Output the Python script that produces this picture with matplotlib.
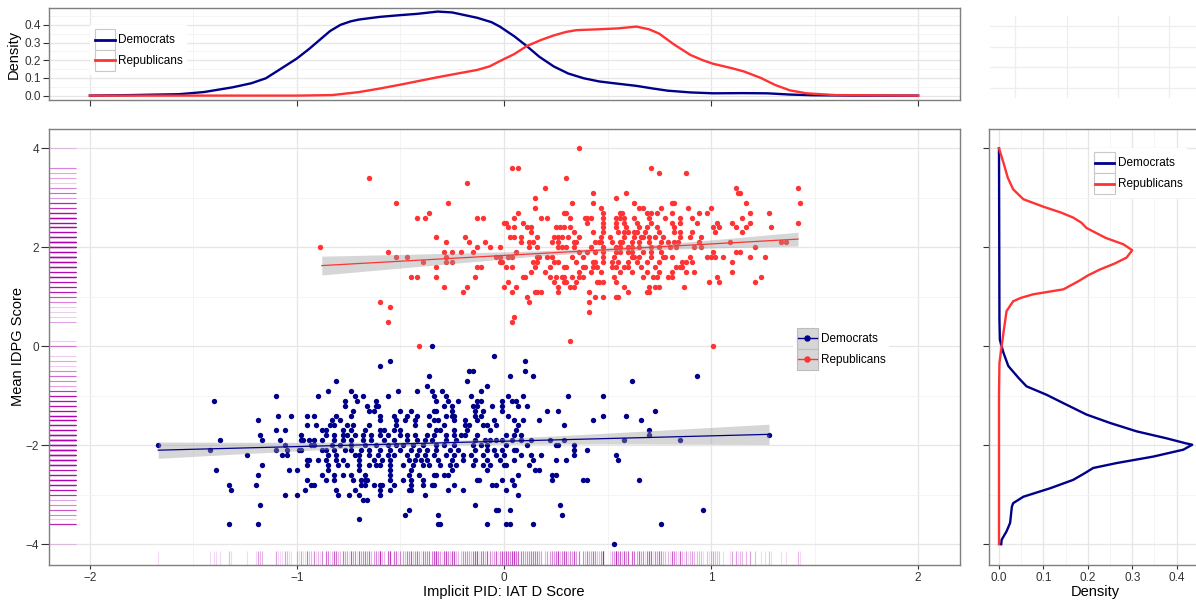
import numpy as np
import matplotlib
matplotlib.use('Agg')
import matplotlib.pyplot as plt
from matplotlib.patches import Rectangle
from matplotlib.lines import Line2D
from matplotlib.legend_handler import HandlerBase

plt.rcParams['font.family'] = ['Liberation Sans', 'DejaVu Sans']

# ── Colours ───────────────────────────────────────────────────────────────────
DEM = '#00008B'
REP = '#FF3333'
RUG = '#B000B0'
BAND = '#999999'
GRID_MAJOR = '#E6E6E6'
GRID_MINOR = '#F4F4F4'
FRAME = '#7F7F7F'
INK = '#333333'

# ── Scatter data: IDPG score rows and the IAT D scores on each row ────────────
rep_idpg = [4.0, 3.6, 3.5, 3.4, 3.3, 3.2, 3.1, 3.0, 2.9, 2.8, 2.7, 2.6, 2.5, 2.4,
            2.3, 2.2, 2.1, 2.0, 1.9, 1.8, 1.7, 1.6, 1.5, 1.4, 1.3, 1.2, 1.1, 1.0,
            0.9, 0.8, 0.7, 0.6, 0.5, 0.1, 0.0]
rep_iat = [
    [0.36],
    [0.04, 0.07, 0.71],
    [0.75, 0.88],
    [-0.65, 0.30],
    [-0.18],
    [0.20, 1.12, 1.42],
    [0.43, 0.59, 1.13, 1.14],
    [0.15, 0.54],
    [-0.52, -0.27, 0.33, 0.43, 0.63, 0.81, 0.82, 1.17, 1.43],
    [0.15, 0.47, 0.65, 0.67, 0.76, 0.89, 1.00],
    [-0.36, 0.07, 0.29, 0.30, 0.48, 0.56, 0.57, 0.69, 0.71, 0.74, 0.81, 0.94,
     0.98, 1.19, 1.28],
    [-0.42, -0.38, -0.13, -0.10, 0.05, 0.18, 0.21, 0.32, 0.39, 0.40, 0.42, 0.48,
     0.54, 0.56, 0.58, 0.63, 0.70, 0.78, 0.85, 0.91, 1.15],
    [0.00, 0.01, 0.09, 0.40, 0.48, 0.54, 0.58, 0.64, 0.71, 0.81, 0.85, 0.93,
     1.03, 1.10, 1.19, 1.42],
    [0.02, 0.05, 0.11, 0.13, 0.25, 0.27, 0.29, 0.32, 0.48, 0.54, 0.59, 0.65,
     0.69, 0.74, 0.82, 1.01, 1.04, 1.12, 1.17, 1.29],
    [0.13, 0.34, 0.43, 0.48, 0.55, 0.58, 0.60, 0.63, 0.64, 0.68, 0.75, 0.82,
     0.85, 0.91, 1.02, 1.15],
    [-0.33, -0.19, 0.03, 0.05, 0.08, 0.16, 0.24, 0.26, 0.28, 0.31, 0.36, 0.47,
     0.51, 0.58, 0.63, 0.66, 0.67, 0.70, 0.73, 0.77, 0.85, 0.90, 0.95],
    [-0.28, -0.17, -0.09, 0.08, 0.12, 0.14, 0.23, 0.26, 0.34, 0.35, 0.44, 0.46,
     0.47, 0.52, 0.56, 0.57, 0.62, 0.65, 0.70, 0.76, 0.79, 0.82, 0.84, 0.94,
     1.09, 1.34, 1.36],
    [-0.89, -0.13, -0.07, -0.02, 0.12, 0.16, 0.26, 0.28, 0.30, 0.34, 0.42, 0.48,
     0.54, 0.56, 0.60, 0.62, 0.65, 0.71, 0.75, 0.80, 0.83, 0.92, 0.95, 1.21],
    [-0.56, -0.29, -0.25, -0.21, -0.15, 0.06, 0.36, 0.40, 0.44, 0.48, 0.54, 0.56,
     0.60, 0.62, 0.67, 0.71, 0.76, 1.01, 1.12, 1.14],
    [-0.52, -0.47, -0.28, -0.04, -0.02, 0.02, 0.04, 0.16, 0.17, 0.21, 0.23, 0.33,
     0.38, 0.48, 0.53, 0.62, 0.63, 0.65, 0.71, 0.77, 0.78, 0.81, 0.90, 0.98,
     1.00, 1.02, 1.06, 1.19, 1.26],
    [-0.39, -0.28, -0.25, -0.02, -0.01, 0.14, 0.16, 0.24, 0.26, 0.35, 0.43, 0.44,
     0.48, 0.52, 0.55, 0.60, 0.64, 0.69, 0.75, 0.86, 0.88, 0.91, 1.10],
    [-0.33, -0.13, -0.11, 0.01, 0.04, 0.15, 0.22, 0.29, 0.30, 0.38, 0.39, 0.43,
     0.45, 0.52, 0.54, 0.58, 0.60, 0.66, 0.73, 0.83, 0.85, 0.86],
    [0.13, 0.20, 0.36, 0.42, 0.47, 0.56, 0.62, 0.69, 0.75, 0.81, 0.88, 0.92, 1.10],
    [-0.45, -0.42, -0.33, -0.14, 0.09, 0.10, 0.22, 0.25, 0.28, 0.29, 0.33, 0.36,
     0.38, 0.53, 0.67, 0.72, 0.74, 0.79, 0.81, 1.03, 1.24],
    [0.02, 0.24, 0.29, 0.30, 0.35, 0.45, 0.46, 0.48, 0.54, 0.99, 1.04, 1.21],
    [-0.29, -0.18, 0.00, 0.06, 0.26, 0.32, 0.34, 0.58, 0.70, 0.73, 0.75, 0.87],
    [-0.20, 0.04, 0.15, 0.16, 0.18, 0.26, 0.41, 0.60, 0.69, 0.70],
    [0.11, 0.44, 0.48, 0.54, 0.55],
    [-0.60, 0.12, 0.41],
    [-0.55],
    [0.41],
    [0.05],
    [-0.56, 0.04],
    [0.32],
    [-0.41, 1.01],
]

dem_idpg = [0.0, -0.2, -0.3, -0.4, -0.5, -0.6, -0.7, -0.8, -0.9, -1.0, -1.1, -1.2,
            -1.3, -1.4, -1.5, -1.6, -1.7, -1.8, -1.9, -2.0, -2.1, -2.2, -2.3, -2.4,
            -2.5, -2.6, -2.7, -2.8, -2.9, -3.0, -3.1, -3.2, -3.3, -3.4, -3.5, -3.6,
            -4.0]
dem_iat = [
    [-0.35],
    [-0.05],
    [-0.55, 0.10],
    [-0.60],
    [-0.17, -0.15, 0.10],
    [-0.36, 0.03, 0.14, 0.93],
    [-0.81, -0.18, 0.62],
    [-0.37, -0.08],
    [-0.85, -0.74, -0.51, -0.42, -0.35, -0.30, -0.11],
    [-1.10, -0.90, -0.72, -0.68, -0.56, -0.34, -0.28, -0.16, 0.02, 0.09, 0.31,
     0.48],
    [-1.40, -0.77, -0.71, -0.62, -0.33, -0.27, -0.22, -0.13, -0.11, -0.01, 0.04,
     0.06],
    [-0.77, -0.66, -0.62, -0.61, -0.29, -0.25, -0.15, -0.13, -0.06, -0.01, 0.07,
     0.11],
    [-0.73, -0.65, -0.63, -0.50, -0.45, -0.34, -0.33, -0.25, -0.14, -0.10, -0.01,
     0.21, 0.26, 0.73],
    [-1.09, -1.03, -0.95, -0.92, -0.81, -0.74, -0.60, -0.53, -0.47, -0.42, -0.36,
     -0.28, -0.25, -0.24, -0.14, -0.11, 0.02, 0.48, 0.59],
    [-1.19, -0.83, -0.79, -0.60, -0.52, -0.48, -0.43, -0.34, -0.32, -0.24, -0.19,
     -0.13, -0.05, 0.05, 0.09, 0.17, 0.43, 0.66],
    [-0.95, -0.91, -0.84, -0.82, -0.76, -0.73, -0.65, -0.52, -0.43, -0.36, -0.29,
     -0.19, -0.17, -0.10, -0.08, -0.04, 0.07, 0.29],
    [-1.10, -1.06, -0.88, -0.86, -0.78, -0.74, -0.67, -0.60, -0.58, -0.53, -0.50,
     -0.33, -0.31, -0.24, -0.18, -0.07, 0.06, 0.70],
    [-1.18, -0.98, -0.86, -0.82, -0.78, -0.76, -0.72, -0.68, -0.64, -0.60, -0.56,
     -0.50, -0.47, -0.43, -0.37, -0.34, -0.28, -0.24, -0.21, -0.19, -0.13, 0.01,
     0.05, 0.08, 0.70, 1.28],
    [-1.37, -1.17, -1.08, -0.98, -0.97, -0.94, -0.92, -0.88, -0.82, -0.78, -0.74,
     -0.68, -0.64, -0.58, -0.53, -0.47, -0.42, -0.38, -0.35, -0.28, -0.23, -0.14,
     -0.09, -0.07, -0.04, -0.01, 0.04, 0.08, 0.13, 0.22, 0.29, 0.58, 0.85],
    [-1.67, -1.06, -0.93, -0.92, -0.83, -0.79, -0.74, -0.67, -0.62, -0.56, -0.52,
     -0.49, -0.44, -0.39, -0.33, -0.29, -0.24, -0.15, -0.11, -0.08, 0.01, 0.11,
     0.25, 0.26, 0.34],
    [-1.42, -1.10, -1.05, -0.99, -0.98, -0.88, -0.86, -0.82, -0.77, -0.74, -0.69,
     -0.65, -0.60, -0.55, -0.50, -0.45, -0.41, -0.37, -0.33, -0.26, -0.22, -0.14,
     -0.08, -0.05, -0.01, 0.05, 0.06, 0.34, 0.40],
    [-1.24, -1.07, -1.05, -0.85, -0.81, -0.72, -0.70, -0.65, -0.61, -0.56, -0.53,
     -0.47, -0.42, -0.38, -0.34, -0.28, -0.24, -0.20, -0.16, -0.10, -0.04, 0.00,
     0.08, 0.13, 0.18, 0.34, 0.54],
    [-0.95, -0.94, -0.90, -0.86, -0.81, -0.78, -0.70, -0.63, -0.59, -0.55, -0.46,
     -0.43, -0.40, -0.37, -0.32, -0.25, -0.20, -0.14, -0.08, -0.02, 0.05, 0.14,
     0.25, 0.30, 0.55],
    [-1.17, -0.95, -0.85, -0.80, -0.76, -0.70, -0.65, -0.62, -0.60, -0.55, -0.49,
     -0.44, -0.39, -0.36, -0.31, -0.26, -0.23, -0.15, -0.10, -0.07, 0.00, 0.01,
     0.12],
    [-1.39, -1.04, -1.00, -0.85, -0.70, -0.55, -0.45, -0.25, -0.08, 0.15, 0.17],
    [-1.19, -0.88, -0.82, -0.78, -0.74, -0.67, -0.55, -0.46, -0.41, -0.34, -0.33,
     -0.29, -0.27, 0.07, 0.23, 0.25],
    [-0.95, -0.86, -0.82, -0.73, -0.69, -0.67, -0.66, -0.55, -0.49, -0.45, -0.39,
     -0.13, -0.12, -0.01, 0.04, 0.23, 0.38, 0.40, 0.65],
    [-1.33, -1.20, -0.93, -0.92, -0.69, -0.67, -0.63, -0.60, -0.59, -0.53, -0.45,
     -0.39, -0.35, -0.34, -0.24, -0.06, -0.04, 0.05],
    [-1.32, -0.96, -0.81, -0.72, -0.60, -0.55, -0.46, -0.45, -0.27, -0.20, 0.01],
    [-1.06, -1.00, -0.80, -0.75, -0.70, -0.60, -0.38, 0.07],
    [-0.68, -0.66],
    [-1.18, -0.14, 0.27],
    [-0.46, -0.04, -0.03, 0.03, 0.96],
    [-0.48, -0.32, 0.28],
    [-0.70],
    [-1.33, -1.19, -0.32, -0.31, -0.08, 0.01, 0.03, 0.14, 0.76],
    [0.53],
]

# ── Linear fits with 95% bands ────────────────────────────────────────────────
dem_fit_x = [-1.67, 1.28]
dem_fit_y = [-2.10, -1.78]
dem_band_x = [-1.67, -1.3, -1.0, -0.65, -0.35, 0.0, 0.3, 0.65, 1.0, 1.28]
dem_band_lo = [-2.265, -2.18, -2.115, -2.04, -2.00, -1.98, -1.975, -1.975, -1.98, -1.985]
dem_band_hi = [-1.935, -1.94, -1.94, -1.935, -1.92, -1.86, -1.80, -1.72, -1.64, -1.575]

rep_fit_x = [-0.88, 1.42]
rep_fit_y = [1.63, 2.165]
rep_band_x = [-0.88, -0.5, -0.2, 0.1, 0.45, 0.8, 1.1, 1.42]
rep_band_lo = [1.44, 1.58, 1.69, 1.80, 1.905, 1.96, 1.995, 2.025]
rep_band_hi = [1.82, 1.855, 1.885, 1.92, 1.975, 2.08, 2.185, 2.305]

# ── Marginal densities ────────────────────────────────────────────────────────
dem_iat_grid = [-2.0, -1.8, -1.57, -1.45, -1.31, -1.22, -1.15, -1.08, -1.0, -0.94,
                -0.89, -0.84, -0.79, -0.74, -0.70, -0.6, -0.5, -0.42, -0.32, -0.25,
                -0.13, -0.06, -0.02, 0.05, 0.11, 0.17, 0.24, 0.31, 0.385, 0.46,
                0.53, 0.64, 0.72, 0.79, 0.9, 1.01, 1.15, 1.27, 1.38, 1.49, 1.7, 2.0]
dem_iat_dens = [0.0, 0.003, 0.008, 0.02, 0.047, 0.07, 0.098, 0.15, 0.21, 0.265,
                0.315, 0.365, 0.40, 0.42, 0.43, 0.445, 0.455, 0.462, 0.475, 0.47,
                0.44, 0.415, 0.39, 0.335, 0.28, 0.22, 0.165, 0.125, 0.098, 0.08,
                0.07, 0.055, 0.04, 0.028, 0.018, 0.013, 0.014, 0.013, 0.006, 0.002,
                0.0, 0.0]
rep_iat_grid = [-2.0, -1.0, -0.83, -0.70, -0.6, -0.5, -0.32, -0.2, -0.13, -0.07,
                -0.02, 0.05, 0.11, 0.18, 0.24, 0.30, 0.35, 0.46, 0.55, 0.64, 0.70,
                0.75, 0.82, 0.90, 0.96, 1.01, 1.1, 1.16, 1.24, 1.31, 1.38, 1.46,
                1.6, 2.0]
rep_iat_dens = [0.0, 0.0, 0.003, 0.02, 0.04, 0.062, 0.104, 0.13, 0.145, 0.165,
                0.195, 0.235, 0.28, 0.315, 0.34, 0.36, 0.37, 0.375, 0.38, 0.39,
                0.375, 0.35, 0.29, 0.23, 0.20, 0.18, 0.155, 0.136, 0.10, 0.06,
                0.03, 0.013, 0.003, 0.0]

dem_idpg_grid = [4.0, 0.54, 0.13, -0.13, -0.40, -0.64, -0.81, -0.98, -1.15, -1.38,
                 -1.55, -1.72, -1.86, -1.96, -1.99, -2.09, -2.23, -2.36, -2.46,
                 -2.56, -2.70, -2.87, -3.04, -3.17, -3.24, -3.57, -3.74, -3.91, -4.0]
dem_idpg_dens = [0.0, 0.001, 0.002, 0.01, 0.021, 0.044, 0.062, 0.107, 0.145, 0.197,
                 0.25, 0.31, 0.377, 0.42, 0.435, 0.415, 0.347, 0.265, 0.212, 0.194,
                 0.167, 0.115, 0.055, 0.032, 0.029, 0.025, 0.017, 0.006, 0.005]
rep_idpg_grid = [4.0, 3.71, 3.4, 3.17, 2.97, 2.82, 2.70, 2.60, 2.50, 2.39, 2.19,
                 2.06, 1.94, 1.79, 1.67, 1.55, 1.43, 1.32, 1.15, 1.05, 0.98, 0.91,
                 0.71, 0.27, 0.0, -0.34, -1.0, -4.0]
rep_idpg_dens = [0.0, 0.01, 0.02, 0.032, 0.055, 0.10, 0.14, 0.167, 0.185, 0.197,
                 0.24, 0.28, 0.30, 0.287, 0.26, 0.227, 0.20, 0.18, 0.145, 0.077,
                 0.05, 0.032, 0.017, 0.01, 0.006, 0.001, 0.0, 0.0]

PARTIES = ['Democrats', 'Republicans']
W, H = 1196, 603


class KeyHandler(HandlerBase):
    """Square key box with a horizontal line (and optional dot) across its middle."""

    def __init__(self, fill, edge, lw, marker=None):
        super().__init__()
        self.fill, self.edge, self.lw, self.marker = fill, edge, lw, marker

    def create_artists(self, legend, orig_handle, xdescent, ydescent, width,
                       height, fontsize, trans):
        x0, y0 = -xdescent, -ydescent
        box = Rectangle((x0, y0), width, height, facecolor=self.fill,
                        edgecolor=self.edge, lw=0.8, transform=trans)
        ym = y0 + height / 2
        line = Line2D([x0 + 0.5, x0 + width - 0.5], [ym, ym],
                      color=orig_handle.get_color(), lw=self.lw, transform=trans)
        artists = [box, line]
        if self.marker:
            dot = Line2D([x0 + width / 2], [ym], marker=self.marker, ms=3.6,
                         color=orig_handle.get_color(), lw=0, transform=trans)
            artists.append(dot)
        return artists


def flatten(scores, rows):
    xs, ys = [], []
    for s, row in zip(scores, rows):
        xs.extend(row)
        ys.extend([s] * len(row))
    return np.array(xs), np.array(ys)


def px_rect(x0, y0, x1, y1):
    """Pixel box (top-left origin) -> figure fraction rect."""
    return [x0 / W, 1 - y1 / H, (x1 - x0) / W, (y1 - y0) / H]


def style(ax, xmaj, xmin, ymaj, ymin):
    ax.set_xticks(xmaj)
    ax.set_xticks(xmin, minor=True)
    ax.set_yticks(ymaj)
    ax.set_yticks(ymin, minor=True)
    ax.grid(which='major', color=GRID_MAJOR, lw=0.9)
    ax.grid(which='minor', color=GRID_MINOR, lw=0.7)
    ax.set_axisbelow(True)
    for sp in ax.spines.values():
        sp.set_color(FRAME)
        sp.set_linewidth(1.0)
    ax.tick_params(which='minor', length=0)
    ax.tick_params(which='major', color=INK, width=0.8, labelcolor=INK,
                   labelsize=8.5)


def legend(ax, handler, anchor):
    handles = [Line2D([], [], color=c) for c in (DEM, REP)]
    lg = ax.legend(handles, PARTIES, loc='upper left', bbox_to_anchor=anchor,
                   handler_map={Line2D: handler},
                   handlelength=1.75, handleheight=2.35, labelspacing=0,
                   handletextpad=0.25, borderpad=0.35, borderaxespad=0,
                   fontsize=8.5, frameon=True, fancybox=False)
    lg.get_frame().set_facecolor('white')
    lg.get_frame().set_edgecolor('none')
    lg.get_frame().set_alpha(1)
    return lg


rep_x, rep_y = flatten(rep_idpg, rep_iat)
dem_x, dem_y = flatten(dem_idpg, dem_iat)
all_x = np.concatenate([dem_x, rep_x])
all_y = np.concatenate([dem_y, rep_y])

fig = plt.figure(figsize=(W / 100, H / 100), dpi=100)

# ── Main scatter ──────────────────────────────────────────────────────────────
ax = fig.add_axes(px_rect(48.5, 128.5, 959.5, 564.5))
ax.set_xlim(-2.2, 2.2)
ax.set_ylim(-4.41, 4.40)
style(ax, [-2, -1, 0, 1, 2], [-1.5, -0.5, 0.5, 1.5],
      [-4, -2, 0, 2, 4], [-3, -1, 1, 3])
ax.set_xticklabels(['\u22122', '\u22121', '0', '1', '2'])
ax.set_yticklabels(['\u22124', '\u22122', '0', '2', '4'])
ax.tick_params(axis='x', which='major', length=3.2, pad=2.5)
ax.tick_params(axis='y', which='major', length=5.5, pad=1.2)

ax.scatter(dem_x, dem_y, s=15, color=DEM, lw=0, zorder=3)
ax.scatter(rep_x, rep_y, s=15, color=REP, lw=0, zorder=3)
ax.fill_between(dem_band_x, dem_band_lo, dem_band_hi, color=BAND, alpha=0.4,
                lw=0, zorder=4)
ax.fill_between(rep_band_x, rep_band_lo, rep_band_hi, color=BAND, alpha=0.4,
                lw=0, zorder=4)
ax.plot(dem_fit_x, dem_fit_y, color=DEM, lw=0.9, zorder=5)
ax.plot(rep_fit_x, rep_fit_y, color=REP, lw=0.9, zorder=5)

# rugs along both axes
ax.vlines(all_x, 0, 0.03, transform=ax.get_xaxis_transform(), colors=RUG,
          alpha=0.15, lw=0.8, zorder=2)
ax.hlines(all_y, 0, 0.03, transform=ax.get_yaxis_transform(), colors=RUG,
          alpha=0.2, lw=0.8, zorder=2)

legend(ax, KeyHandler('#D6D6D6', '#BDBDBD', 1.0, marker='o'), (0.817, 0.552))

fig.text(504 / W, 1 - 592 / H, 'Implicit PID: IAT D Score', ha='center',
         va='center', fontsize=10.5, color='black')
fig.text(18 / W, 1 - 346 / H, 'Mean IDPG Score', ha='center', va='center',
         rotation=90, fontsize=10.5, color='black')

density_key = KeyHandler('white', '#C8C8C8', 2.0)

# ── Top marginal: IAT density ─────────────────────────────────────────────────
ax_top = fig.add_axes(px_rect(48.5, 7.5, 959.5, 99.5))
ax_top.set_xlim(-2.2, 2.2)
ax_top.set_ylim(-0.022, 0.498)
style(ax_top, [-2, -1, 0, 1, 2], [-1.5, -0.5, 0.5, 1.5],
      [0.0, 0.1, 0.2, 0.3, 0.4], [0.05, 0.15, 0.25, 0.35, 0.45])
ax_top.set_xticklabels([])
ax_top.set_yticklabels(['0.0', '0.1', '0.2', '0.3', '0.4'])
ax_top.tick_params(axis='x', which='major', length=4.5)
ax_top.tick_params(axis='y', which='major', length=4.5, pad=1.2)
ax_top.plot(dem_iat_grid, dem_iat_dens, color=DEM, lw=1.7, zorder=3)
ax_top.plot(rep_iat_grid, rep_iat_dens, color=REP, lw=1.7, zorder=3)
legend(ax_top, density_key, (0.046, 0.81))
fig.text(14 / W, 1 - 54 / H, 'Density', ha='center', va='center',
         rotation=90, fontsize=10.5, color='black')

# ── Right marginal: IDPG density ──────────────────────────────────────────────
ax_right = fig.add_axes(px_rect(989, 128.5, 1202, 564.5))
ax_right.set_xlim(-0.0225, 0.457)
ax_right.set_ylim(-4.41, 4.40)
style(ax_right, [0.0, 0.1, 0.2, 0.3, 0.4], [0.05, 0.15, 0.25, 0.35, 0.45],
      [-4, -2, 0, 2, 4], [-3, -1, 1, 3])
ax_right.set_xticklabels(['0.0', '0.1', '0.2', '0.3', '0.4'])
ax_right.set_yticklabels([])
ax_right.tick_params(axis='x', which='major', length=3.2, pad=2.5)
ax_right.tick_params(axis='y', which='major', length=4.5)
ax_right.plot(dem_idpg_dens, dem_idpg_grid, color=DEM, lw=1.7, zorder=3)
ax_right.plot(rep_idpg_dens, rep_idpg_grid, color=REP, lw=1.7, zorder=3)
legend(ax_right, density_key, (0.474, 0.955))
fig.text(1095 / W, 1 - 592 / H, 'Density', ha='center', va='center',
         fontsize=10.5, color='black')

# ── Empty corner panel, grid only ─────────────────────────────────────────────
ax_corner = fig.add_axes(px_rect(990, 16, 1200, 98))
ax_corner.set_xlim(-0.49, 3.6)
ax_corner.set_ylim(-0.48, 3.48)
ax_corner.set_xticks([0, 1, 2, 3])
ax_corner.set_yticks([0, 1, 2, 3])
ax_corner.grid(color='#EEEEEE', lw=0.9)
ax_corner.tick_params(length=0, labelbottom=False, labelleft=False)
for sp in ax_corner.spines.values():
    sp.set_visible(False)

fig.savefig('out.png', dpi=100)
